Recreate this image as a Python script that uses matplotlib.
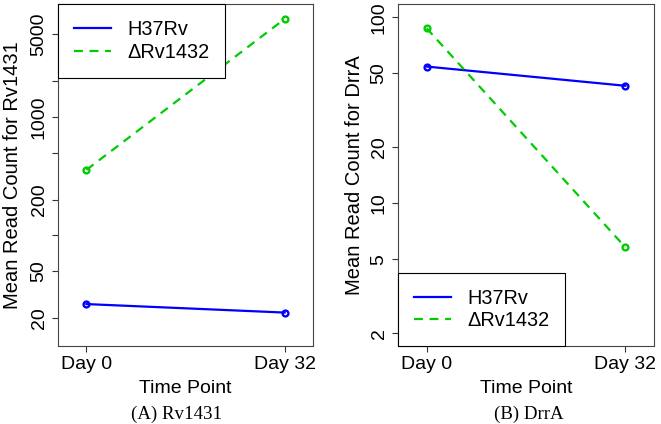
import matplotlib
matplotlib.use("Agg")
import matplotlib.pyplot as plt

plt.rcParams['font.family'] = ['Liberation Sans', 'DejaVu Sans']

# Data
time_points = ["Day 0", "Day 32"]
x_pos = [1, 2]

rv1431_h37rv = [26.3, 22.3]
rv1431_delta = [358, 6730]

drra_h37rv = [54.3, 42.8]
drra_delta = [87.3, 5.8]

left_ticks = [20, 50, 100, 200, 500, 1000, 2000, 5000]
left_labels = ["20", "50", "", "200", "", "1000", "", "5000"]
right_ticks = [2, 5, 10, 20, 50, 100]
right_labels = ["2", "5", "10", "20", "50", "100"]

BLUE = "#0000FF"
GREEN = "#00CD00"

fig = plt.figure(figsize=(6.61, 4.24), dpi=100)
ax1 = fig.add_axes([0.0873, 0.184, 0.3867, 0.806])
ax2 = fig.add_axes([0.6017, 0.184, 0.3880, 0.806])


def draw_panel(ax, h37, delta, ticks, labels, ylim, ylabel, legend_loc, label_x):
    ax.plot(x_pos, h37, color=BLUE, lw=1.6, label="H37Rv")
    ax.plot(x_pos, delta, color=GREEN, lw=1.6, ls=(0, (4, 3)), label="\u0394Rv1432")
    ax.plot(x_pos, h37, ls='none', marker='o', ms=4.2, mfc='none', mew=1.7, color=BLUE)
    ax.plot(x_pos, delta, ls='none', marker='o', ms=4.2, mfc='none', mew=1.7, color=GREEN)
    ax.set_yscale('log')
    ax.set_ylim(*ylim)
    ax.set_xlim(0.855, 2.145)
    ax.set_yticks(ticks)
    ax.set_yticklabels(labels)
    ax.minorticks_off()
    ax.set_xticks(x_pos)
    ax.set_xticklabels(time_points)
    ax.tick_params(length=4, width=0.8, labelsize=14, pad=3.2, color='#333333')
    plt.setp(ax.get_yticklabels(), rotation=90, va='center')
    for s in ax.spines.values():
        s.set_linewidth(0.8)
        s.set_color('#444444')
    ax.set_ylabel(ylabel, fontsize=14.5, va='baseline')
    ax.yaxis.set_label_coords(label_x, 0.5)
    ax.set_xlabel("Time Point", fontsize=14, va='baseline')
    ax.xaxis.set_label_coords(0.5, -0.1384)
    leg = ax.legend(loc=legend_loc, fontsize=14.3, frameon=True, fancybox=False,
                    edgecolor='black', framealpha=1, borderaxespad=0,
                    handlelength=1.9, handletextpad=0.8, borderpad=0.8,
                    labelspacing=0.18)
    leg.get_frame().set_linewidth(0.8)


draw_panel(ax1, rv1431_h37rv, rv1431_delta, left_ticks, left_labels,
           (11.64, 8975), "Mean Read Count for Rv1431", 'upper left', -0.154)
draw_panel(ax2, drra_h37rv, drra_delta, right_ticks, right_labels,
           (1.71, 117.4), "Mean Read Count for DrrA", 'lower left', -0.147)

fig.text(177 / 661, 0.013, "(A) Rv1431", ha='center', va='baseline',
         fontsize=13.6, family='Liberation Serif')
fig.text(529 / 661, 0.013, "(B) DrrA", ha='center', va='baseline',
         fontsize=13.6, family='Liberation Serif')

fig.savefig("out.png", dpi=100)
